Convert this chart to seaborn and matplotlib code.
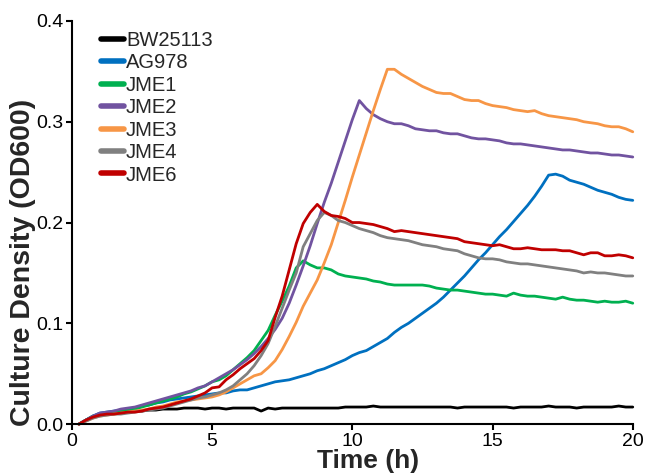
import numpy as np
import pandas as pd
import matplotlib
matplotlib.use('Agg')
import matplotlib.pyplot as plt
import seaborn as sns

# sampling every 15 min
time_h = np.arange(0.25, 20.01, 0.25)

bw25113 = [0.000, 0.004, 0.007, 0.009, 0.010, 0.011, 0.012, 0.012, 0.013, 0.013, 0.014, 0.014,
           0.015, 0.015, 0.015, 0.016, 0.016, 0.016, 0.015, 0.016, 0.016, 0.015, 0.016, 0.016,
           0.016, 0.016, 0.013, 0.016, 0.015, 0.016, 0.016, 0.016, 0.016, 0.016, 0.016, 0.016,
           0.016, 0.016, 0.017, 0.017, 0.017, 0.017, 0.018, 0.017, 0.017, 0.017, 0.017, 0.017,
           0.017, 0.017, 0.017, 0.017, 0.017, 0.017, 0.016, 0.017, 0.017, 0.017, 0.017, 0.017,
           0.017, 0.017, 0.016, 0.017, 0.017, 0.017, 0.017, 0.018, 0.017, 0.017, 0.017, 0.016,
           0.017, 0.017, 0.017, 0.017, 0.017, 0.018, 0.017, 0.017]
ag978 = [0.000, 0.004, 0.008, 0.011, 0.012, 0.013, 0.014, 0.015, 0.016, 0.018, 0.019, 0.021,
         0.022, 0.024, 0.025, 0.026, 0.027, 0.028, 0.029, 0.030, 0.031, 0.031, 0.033, 0.034,
         0.034, 0.036, 0.038, 0.040, 0.042, 0.043, 0.044, 0.046, 0.048, 0.050, 0.053, 0.055,
         0.058, 0.061, 0.064, 0.068, 0.071, 0.073, 0.077, 0.081, 0.085, 0.091, 0.096, 0.100,
         0.105, 0.110, 0.115, 0.120, 0.126, 0.133, 0.140, 0.147, 0.155, 0.163, 0.170, 0.178,
         0.186, 0.193, 0.201, 0.209, 0.217, 0.226, 0.236, 0.247, 0.248, 0.246, 0.242, 0.240,
         0.238, 0.235, 0.232, 0.230, 0.228, 0.225, 0.223, 0.222]
jme1 = [0.000, 0.004, 0.008, 0.010, 0.011, 0.012, 0.013, 0.014, 0.015, 0.017, 0.019, 0.021,
        0.023, 0.025, 0.027, 0.030, 0.032, 0.035, 0.038, 0.042, 0.044, 0.048, 0.054, 0.060,
        0.066, 0.073, 0.083, 0.093, 0.108, 0.122, 0.137, 0.155, 0.162, 0.158, 0.155, 0.155,
        0.153, 0.149, 0.147, 0.146, 0.145, 0.144, 0.142, 0.141, 0.139, 0.138, 0.138, 0.138,
        0.138, 0.138, 0.137, 0.135, 0.134, 0.133, 0.133, 0.132, 0.131, 0.130, 0.129, 0.129,
        0.128, 0.127, 0.130, 0.128, 0.127, 0.127, 0.126, 0.125, 0.124, 0.126, 0.124, 0.123,
        0.123, 0.122, 0.121, 0.122, 0.121, 0.121, 0.122, 0.120]
jme2 = [0.000, 0.004, 0.008, 0.011, 0.012, 0.013, 0.015, 0.016, 0.017, 0.019, 0.021, 0.023,
        0.025, 0.027, 0.029, 0.031, 0.033, 0.036, 0.038, 0.042, 0.046, 0.050, 0.054, 0.059,
        0.064, 0.070, 0.077, 0.085, 0.094, 0.105, 0.120, 0.138, 0.157, 0.177, 0.199, 0.220,
        0.239, 0.260, 0.281, 0.302, 0.321, 0.313, 0.307, 0.303, 0.300, 0.298, 0.298, 0.296,
        0.293, 0.292, 0.291, 0.291, 0.289, 0.288, 0.288, 0.286, 0.284, 0.283, 0.283, 0.282,
        0.281, 0.279, 0.278, 0.278, 0.277, 0.276, 0.275, 0.274, 0.273, 0.272, 0.272, 0.271,
        0.270, 0.269, 0.269, 0.268, 0.267, 0.267, 0.266, 0.265]
jme3 = [0.000, 0.003, 0.006, 0.008, 0.009, 0.010, 0.011, 0.012, 0.013, 0.014, 0.015, 0.017,
        0.018, 0.020, 0.022, 0.023, 0.024, 0.025, 0.026, 0.027, 0.029, 0.032, 0.036, 0.040,
        0.044, 0.048, 0.050, 0.056, 0.063, 0.074, 0.087, 0.101, 0.117, 0.130, 0.143, 0.160,
        0.178, 0.200, 0.222, 0.245, 0.267, 0.289, 0.311, 0.332, 0.352, 0.352, 0.347, 0.343,
        0.339, 0.335, 0.332, 0.329, 0.328, 0.328, 0.325, 0.322, 0.321, 0.321, 0.318, 0.316,
        0.315, 0.314, 0.312, 0.311, 0.310, 0.311, 0.308, 0.306, 0.305, 0.304, 0.303, 0.302,
        0.300, 0.299, 0.298, 0.296, 0.295, 0.295, 0.293, 0.290]
jme4 = [0.000, 0.003, 0.006, 0.008, 0.009, 0.010, 0.010, 0.011, 0.012, 0.013, 0.014, 0.015,
        0.016, 0.018, 0.020, 0.022, 0.024, 0.026, 0.027, 0.029, 0.031, 0.034, 0.038, 0.044,
        0.050, 0.058, 0.068, 0.080, 0.097, 0.115, 0.133, 0.150, 0.176, 0.189, 0.202, 0.210,
        0.207, 0.202, 0.200, 0.197, 0.194, 0.192, 0.190, 0.187, 0.185, 0.184, 0.183, 0.182,
        0.180, 0.178, 0.177, 0.176, 0.174, 0.173, 0.172, 0.169, 0.167, 0.165, 0.164, 0.164,
        0.163, 0.161, 0.160, 0.159, 0.159, 0.158, 0.157, 0.156, 0.155, 0.154, 0.153, 0.152,
        0.150, 0.151, 0.150, 0.150, 0.149, 0.148, 0.147, 0.147]
jme6 = [0.000, 0.004, 0.007, 0.009, 0.010, 0.010, 0.011, 0.012, 0.012, 0.013, 0.015, 0.016,
        0.017, 0.019, 0.021, 0.023, 0.025, 0.028, 0.031, 0.036, 0.037, 0.044, 0.049, 0.055,
        0.060, 0.065, 0.073, 0.083, 0.106, 0.127, 0.153, 0.179, 0.199, 0.210, 0.218, 0.211,
        0.207, 0.206, 0.204, 0.200, 0.200, 0.199, 0.198, 0.196, 0.194, 0.191, 0.192, 0.191,
        0.190, 0.189, 0.188, 0.187, 0.186, 0.185, 0.184, 0.181, 0.180, 0.179, 0.178, 0.177,
        0.178, 0.176, 0.174, 0.174, 0.175, 0.174, 0.173, 0.173, 0.173, 0.172, 0.172, 0.170,
        0.168, 0.170, 0.170, 0.167, 0.167, 0.168, 0.167, 0.165]

strains = ['BW25113', 'AG978', 'JME1', 'JME2', 'JME3', 'JME4', 'JME6']
colors = ['#000000', '#0070C0', '#00B050', '#7153A0', '#F79646', '#808080', '#C00000']

df = pd.concat([
    pd.DataFrame({'time': time_h, 'od': vals, 'strain': name})
    for name, vals in zip(strains, [bw25113, ag978, jme1, jme2, jme3, jme4, jme6])
])

sns.set_style('ticks')
plt.rcParams['font.family'] = ['Liberation Sans', 'DejaVu Sans']

fig = plt.figure(figsize=(6.47, 4.75), dpi=100)
ax = fig.add_axes([0.111, 0.107, 0.867, 0.849])
sns.lineplot(data=df, x='time', y='od', hue='strain', hue_order=strains,
             palette=dict(zip(strains, colors)), linewidth=2, ax=ax)
for ln in ax.lines:
    ln.set_clip_on(False)

ax.set_xlim(0, 20)
ax.set_ylim(0, 0.4)
ax.set_xticks([0, 5, 10, 15, 20])
ax.set_yticks([0, 0.1, 0.2, 0.3, 0.4])
ax.set_yticklabels(['0.0', '0.1', '0.2', '0.3', '0.4'])
ax.tick_params(labelsize=14, width=1.5, length=4, pad=2, color='black', labelcolor='black')
ax.set_xlabel('Time (h)', fontsize=19, fontweight='bold', va='top')
ax.set_ylabel('Culture Density (OD600)', fontsize=20.5, fontweight='bold')
# label positions nudged like in the original figure
ax.xaxis.set_label_coords(0.569, 26 / 475, transform=fig.transFigure)
ax.yaxis.set_label_coords(-0.064, 0.40, transform=ax.transAxes)
sns.despine(ax=ax)
for s in ['left', 'bottom']:
    ax.spines[s].set_linewidth(1.5)
    ax.spines[s].set_color('black')

leg = ax.legend(loc='upper left', bbox_to_anchor=(0.03, 1.005), frameon=False, fontsize=14.5,
                handlelength=1.15, handletextpad=0.1, labelspacing=0.17, borderaxespad=0.2)
for h in leg.get_lines():
    h.set_linewidth(4)

fig.savefig('out.png', dpi=100)
